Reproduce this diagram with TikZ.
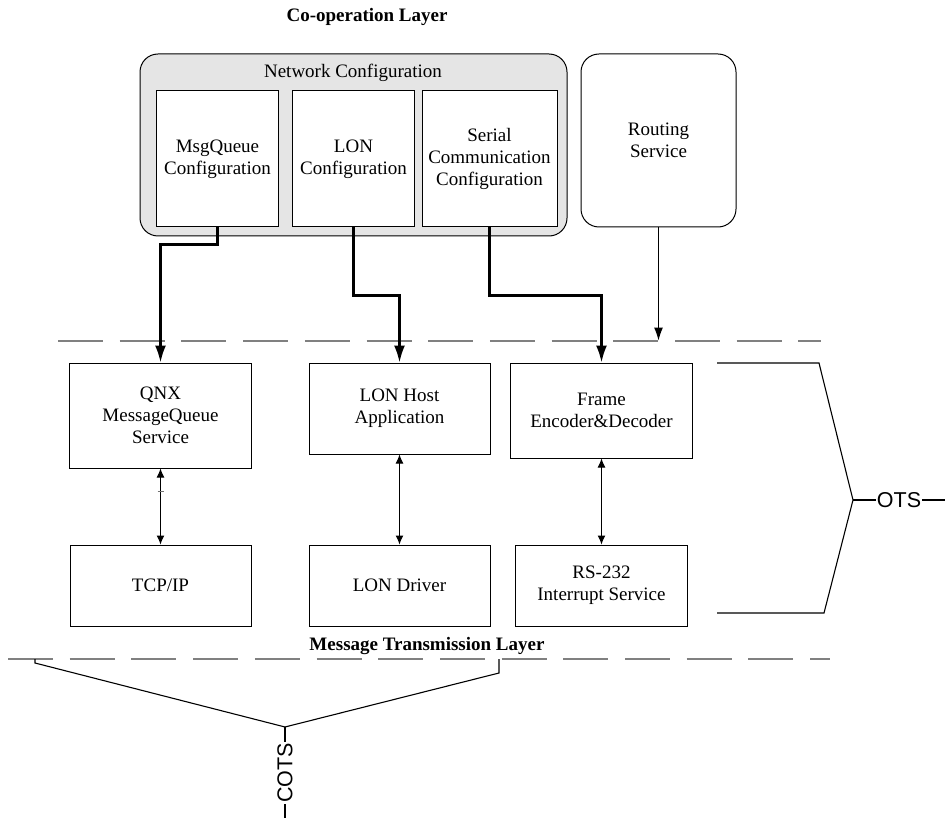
\documentclass[tikz,border=0pt]{standalone}
\usepackage{fontspec}
\setmainfont{Liberation Serif}
\newfontfamily\otsfont{Liberation Sans}
\usetikzlibrary{arrows.meta}
\begin{document}
\begin{tikzpicture}[x=1pt,y=-1pt,
  txt/.style={font=\fontsize{19}{22}\selectfont, align=center},
  box/.style={txt, draw=black, line width=1pt, fill=white, inner sep=0pt},
  rbox/.style={box, rounded corners=18pt},
  layerline/.style={draw=black!50, line width=1.6pt, dash pattern=on 45pt off 16.7pt},
  boldarrow/.style={line width=2.2pt, -{Latex[length=17pt,width=11pt]}},
  thinarrow/.style={line width=1pt, -{Latex[length=13pt,width=9pt]}},
  twoway/.style={line width=1pt, {Latex[length=9pt,width=8pt]}-{Latex[length=9pt,width=8pt]}},
  brace/.style={line width=1.1pt, line join=miter},
  sans/.style={font=\otsfont\fontsize{21.5}{24}\selectfont, inner sep=1pt},
  layertitle/.style={font=\fontsize{19}{22}\selectfont\bfseries, anchor=base},
]
\useasboundingbox (0,0) rectangle (945,818);

% layer titles
\node[layertitle] (coop) at (367,22) {Co-operation Layer};
\node[layertitle] (mtl) at (427,650) {Message Transmission Layer};

% co-operation layer
\node[rbox, fill=black!10, minimum width=427pt, minimum height=182pt] (net) at (353.5,145) {};
\node[txt, anchor=base] (netlabel) at (353,78) {Network Configuration};
\node[box, minimum width=122pt, minimum height=136pt] (mqc) at (217.5,159) {MsgQueue\\Configuration};
\node[box, minimum width=122pt, minimum height=136pt] (lonc) at (353.5,159) {LON\\Configuration};
\node[box, minimum width=135pt, minimum height=136pt] (serc) at (489.5,159) {Serial\\Communication\\Configuration};
\node[rbox, minimum width=155pt, minimum height=173pt] (rout) at (658.5,140.5) {Routing\\Service};

% layer boundaries
\coordinate (topL) at (58,341);
\coordinate (topR) at (821,341);
\coordinate (botL) at (8,659);
\coordinate (botR) at (830,659);
\draw[layerline] (topL) -- (topR);
\draw[layerline] (botL) -- (botR);

% message transmission layer
\node[box, minimum width=182pt, minimum height=105pt] (qnx) at (160.5,415.5) {QNX\\MessageQueue\\Service};
\node[box, minimum width=181pt, minimum height=91pt] (lonh) at (399.5,408.5) {LON Host\\Application};
\node[box, minimum width=182pt, minimum height=95pt] (frame) at (601.5,410.5) {Frame\\Encoder\&Decoder};
\node[box, minimum width=181pt, minimum height=81pt] (tcp) at (160.5,585.5) {TCP/IP};
\node[box, minimum width=181pt, minimum height=81pt] (lond) at (399.5,585.5) {LON Driver};
\node[box, minimum width=172pt, minimum height=81pt] (rs) at (601.5,585.5) {RS-232\\Interrupt Service};

% configuration flows
\draw[boldarrow] (mqc.south) -- ++(0,17) -| (qnx.north);
\draw[boldarrow] (lonc.south) -- ++(0,68) -| (lonh.north);
\draw[boldarrow] (serc.south) -- ++(0,68) -| (frame.north);
\coordinate (rtip) at (658.5,340.5);
\draw[thinarrow] (rout.south -| rtip) -- (rtip);

% service to driver links
\draw[twoway] (qnx.south) -- (qnx.south |- tcp.north);
\draw[black!55, line width=1pt] (157.5,491.5) -- (163.5,491.5);
\draw[twoway] (lonh.south) -- (lonh.south |- lond.north);
\draw[twoway] (frame.south) -- (frame.south |- rs.north);

% OTS grouping
\coordinate (otsj) at (853,500);
\coordinate (otsend) at (945,500);
\node[sans] (ots) at (899,500) {OTS};
\draw[brace] (717,363) -- (819,363) -- (otsj) -- (824,613) -- (717,613);
\draw[brace] (otsj) -- (ots.west);
\draw[brace] (ots.east) -- (otsend);

% COTS grouping
\coordinate (cotsj) at (285,727);
\coordinate (cotsend) at (285,818);
\node[sans, rotate=90] (cots) at (285,773) {COTS};
\draw[brace] (35,659) -- (35,663) -- (cotsj) -- (499,673) -- (499,659);
\draw[brace] (cotsj) -- (cots.east);
\draw[brace] (cots.west) -- (cotsend);
\end{tikzpicture}
\end{document}
